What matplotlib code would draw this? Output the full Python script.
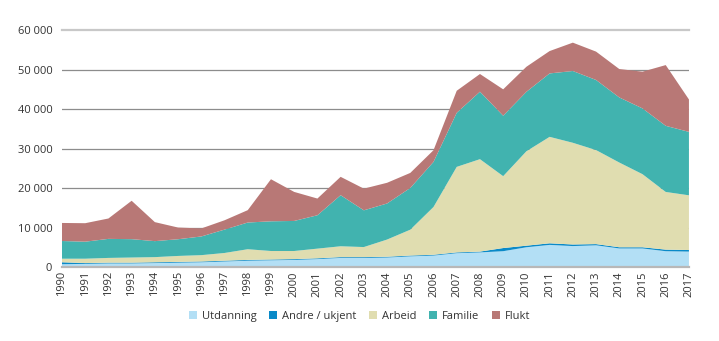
import matplotlib
matplotlib.use("Agg")
import matplotlib.pyplot as plt
import numpy as np
from matplotlib.patches import Patch
from matplotlib.ticker import FuncFormatter

YEARS = list(range(1990, 2018))
SERIES = ["Utdanning", "Andre / ukjent", "Arbeid", "Familie", "Flukt"]
COLORS = ["#b3dff5", "#0a8ac8", "#e0ddb0", "#41b3af", "#b87876"]

UTDANNING = [700, 800, 900, 900, 1000, 1100, 1200, 1400, 1600, 1700, 1800, 2000, 2300, 2300,
             2400, 2700, 2900, 3500, 3700, 4000, 5000, 5600, 5300, 5500, 4700, 4700, 4000, 3900]
ANDRE = [500, 200, 200, 200, 200, 200, 200, 200, 200, 200, 200, 200, 200, 200,
         200, 200, 200, 200, 200, 800, 400, 400, 400, 300, 300, 300, 400, 400]
ARBEID = [900, 1100, 1200, 1300, 1300, 1500, 1600, 1950, 2700, 2150, 2050, 2450, 2750, 2550,
          4350, 6550, 12100, 21650, 23400, 18200, 23900, 26950, 25750, 23800, 21450, 18500, 14600, 13850]
FAMILIE = [4480, 4310, 4820, 4650, 4050, 4230, 4730, 5920, 6760, 7520, 7610, 8450, 12930, 9300,
           9130, 10560, 11410, 13690, 17080, 15300, 15050, 16060, 18170, 17750, 16480, 16650, 16740, 16060]
FLUKT = [4570, 4680, 5160, 9720, 4810, 2960, 2030, 2360, 3130, 10650, 7350, 4230, 4650, 5490,
         5240, 3810, 2960, 5580, 4480, 6680, 6340, 5660, 7180, 7180, 7190, 9300, 15380, 8200]

YTICKS = [0, 10000, 20000, 30000, 40000, 50000, 60000]

plt.rcParams["font.family"] = ["Open Sans", "DejaVu Sans"]

fig = plt.figure(figsize=(7.19, 3.41), dpi=100)
ax = fig.add_axes([0.0862, 0.217, 0.872, 0.695])

ax.stackplot(YEARS, UTDANNING, ANDRE, ARBEID, FAMILIE, FLUKT,
             colors=COLORS, linewidth=0, zorder=2)

ax.set_xlim(YEARS[0], YEARS[-1])
ax.set_ylim(0, 60000)
ax.set_yticks(YTICKS)
ax.yaxis.set_major_formatter(FuncFormatter(lambda v, _: f"{int(v):,}".replace(",", " ")))
ax.set_xticks(YEARS)
ax.set_xticklabels([str(y) for y in YEARS], rotation=90)

# horizontal grid; top line lighter and thicker like the original
for v in YTICKS[1:-1]:
    ax.axhline(v, color="#8c8c8c", lw=0.9, zorder=1)
ax.axhline(YTICKS[-1], color="#c8c8c8", lw=1.6, zorder=1, clip_on=False)
ax.axhline(0, color="#b8b8b8", lw=1.6, zorder=3, clip_on=False)

for s in ax.spines.values():
    s.set_visible(False)
ax.tick_params(axis="y", length=0, pad=7, labelsize=8, colors="#333333")
ax.tick_params(axis="x", length=0, pad=3, labelsize=8, colors="#333333")

handles = [Patch(facecolor=c, edgecolor="none", label=n) for n, c in zip(SERIES, COLORS)]
fig.legend(handles=handles, loc="center", bbox_to_anchor=(0.5, 0.073), ncol=5,
           frameon=False, fontsize=8, handlelength=0.75, handleheight=0.75,
           handletextpad=0.4, columnspacing=1.15, labelcolor="#333333")

fig.savefig("out.png", dpi=100)
